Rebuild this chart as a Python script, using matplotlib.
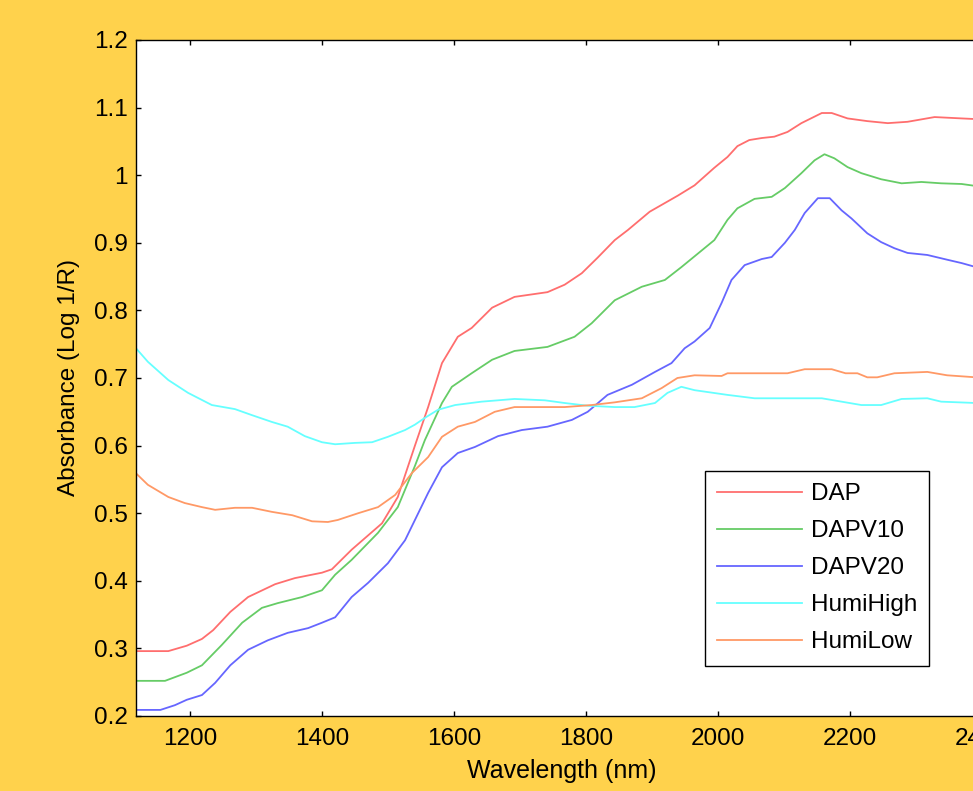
import matplotlib
matplotlib.use("Agg")
import matplotlib.pyplot as plt

plt.rcParams['font.family'] = ['Liberation Sans', 'DejaVu Sans']

# ---- data ----
dap_wl = [1118, 1167, 1195, 1218, 1235, 1261, 1288, 1329, 1359, 1400, 1415, 1445, 1491, 1515, 1541,
          1561, 1582, 1606, 1627, 1658, 1692, 1742, 1768, 1794, 1818, 1844, 1864, 1897, 1940, 1965,
          1995, 2015, 2030, 2048, 2067, 2086, 2106, 2127, 2158, 2173, 2197, 2227, 2258, 2288, 2329,
          2370, 2392]
dap_abs = [0.296, 0.296, 0.304, 0.314, 0.327, 0.354, 0.376, 0.395, 0.404, 0.412, 0.417, 0.446, 0.485, 0.524, 0.600,
           0.657, 0.722, 0.761, 0.774, 0.804, 0.820, 0.827, 0.838, 0.855, 0.878, 0.904, 0.919, 0.946, 0.970, 0.985,
           1.011, 1.027, 1.043, 1.052, 1.055, 1.057, 1.064, 1.077, 1.092, 1.092, 1.084, 1.080, 1.077, 1.079, 1.086,
           1.084, 1.083]

dapv10_wl = [1118, 1162, 1195, 1218, 1248, 1279, 1309, 1333, 1370, 1400, 1420, 1445, 1485, 1515, 1541,
             1556, 1582, 1597, 1627, 1658, 1692, 1742, 1783, 1809, 1844, 1885, 1920, 1945, 1965, 1995,
             2015, 2030, 2056, 2082, 2102, 2127, 2147, 2162, 2177, 2197, 2218, 2248, 2279, 2309, 2339,
             2370, 2392]
dapv10_abs = [0.252, 0.252, 0.264, 0.275, 0.305, 0.338, 0.360, 0.367, 0.376, 0.386, 0.409, 0.431, 0.471, 0.509, 0.570,
              0.608, 0.663, 0.687, 0.707, 0.727, 0.740, 0.746, 0.761, 0.781, 0.815, 0.835, 0.845, 0.864, 0.880, 0.904,
              0.934, 0.951, 0.965, 0.968, 0.981, 1.003, 1.022, 1.031, 1.025, 1.012, 1.003, 0.994, 0.988, 0.990, 0.988,
              0.987, 0.984]

dapv20_wl = [1118, 1155, 1177, 1195, 1218, 1238, 1261, 1288, 1318, 1348, 1379, 1400, 1420, 1445, 1470,
             1500, 1526, 1541, 1561, 1582, 1606, 1632, 1667, 1703, 1742, 1779, 1803, 1833, 1870, 1905,
             1930, 1950, 1965, 1988, 2006, 2021, 2041, 2067, 2082, 2102, 2117, 2132, 2152, 2170, 2188,
             2203, 2227, 2248, 2268, 2288, 2318, 2348, 2370, 2392]
dapv20_abs = [0.209, 0.209, 0.216, 0.224, 0.231, 0.249, 0.275, 0.298, 0.312, 0.323, 0.330, 0.338, 0.346, 0.376, 0.397,
              0.426, 0.460, 0.490, 0.530, 0.568, 0.589, 0.598, 0.614, 0.623, 0.628, 0.638, 0.650, 0.675, 0.690, 0.709,
              0.722, 0.744, 0.754, 0.774, 0.811, 0.845, 0.867, 0.876, 0.879, 0.900, 0.919, 0.944, 0.966, 0.966, 0.948,
              0.936, 0.914, 0.901, 0.892, 0.885, 0.882, 0.875, 0.870, 0.864]

humihigh_wl = [1118, 1136, 1167, 1197, 1233, 1268, 1294, 1324, 1348, 1374, 1400, 1420, 1450, 1476, 1500,
               1526, 1541, 1556, 1576, 1602, 1642, 1692, 1738, 1768, 1803, 1844, 1874, 1905, 1924, 1945,
               1965, 2015, 2056, 2158, 2188, 2218, 2248, 2279, 2318, 2339, 2392]
humihigh_abs = [0.744, 0.724, 0.697, 0.678, 0.660, 0.654, 0.645, 0.635, 0.628, 0.614, 0.605, 0.602, 0.604, 0.605, 0.613,
                0.623, 0.631, 0.641, 0.653, 0.660, 0.665, 0.669, 0.667, 0.663, 0.659, 0.657, 0.657, 0.663, 0.678, 0.687,
                0.682, 0.675, 0.670, 0.670, 0.665, 0.660, 0.660, 0.669, 0.670, 0.665, 0.663]

humilow_wl = [1118, 1136, 1167, 1192, 1218, 1238, 1268, 1294, 1324, 1355, 1385, 1409, 1424, 1455, 1485,
              1511, 1536, 1561, 1582, 1606, 1632, 1662, 1692, 1733, 1768, 1809, 1844, 1885, 1915, 1939,
              1965, 2006, 2015, 2106, 2132, 2173, 2194, 2212, 2227, 2242, 2268, 2318, 2348, 2392]
humilow_abs = [0.559, 0.542, 0.524, 0.515, 0.509, 0.505, 0.508, 0.508, 0.502, 0.497, 0.488, 0.487, 0.490, 0.500, 0.509,
               0.527, 0.559, 0.583, 0.613, 0.628, 0.635, 0.650, 0.657, 0.657, 0.657, 0.660, 0.664, 0.670, 0.685, 0.700,
               0.704, 0.703, 0.707, 0.707, 0.713, 0.713, 0.707, 0.707, 0.701, 0.701, 0.707, 0.709, 0.704, 0.701]

series_names = ['DAP', 'DAPV10', 'DAPV20', 'HumiHigh', 'HumiLow']
series_colors = ['#FF6E6E', '#66CC66', '#6666FF', '#66FFFF', '#FF9966']

x_ticks = [1200, 1400, 1600, 1800, 2000, 2200, 2400]
y_ticks = [0.2, 0.3, 0.4, 0.5, 0.6, 0.7, 0.8, 0.9, 1.0, 1.1, 1.2]
y_ticklabels = ['0.2', '0.3', '0.4', '0.5', '0.6', '0.7', '0.8', '0.9', '1', '1.1', '1.2']

# ---- figure ----
W, H = 973, 791
fig = plt.figure(figsize=(W / 100, H / 100), dpi=100, facecolor='#FFD24C')
ax_left, ax_right, ax_top, ax_bottom = 136, 988, 40, 716
ax = fig.add_axes([ax_left / W, 1 - ax_bottom / H, (ax_right - ax_left) / W, (ax_bottom - ax_top) / H])
ax.set_facecolor('white')

xs = [dap_wl, dapv10_wl, dapv20_wl, humihigh_wl, humilow_wl]
ys = [dap_abs, dapv10_abs, dapv20_abs, humihigh_abs, humilow_abs]
for x, y, name, c in zip(xs, ys, series_names, series_colors):
    ax.plot(x, y, color=c, lw=1.3, label=name, clip_on=True)

ax.set_xlim(1118, 2410)
ax.set_ylim(0.2, 1.2)
ax.set_xticks(x_ticks)
ax.set_yticks(y_ticks)
ax.set_yticklabels(y_ticklabels)

fs = 17.5
ax.tick_params(axis='both', direction='in', length=3.5, width=1, labelsize=fs, colors='black')
ax.tick_params(axis='x', top=True, pad=8.5)
ax.tick_params(axis='y', right=False, pad=6)
for s in ax.spines.values():
    s.set_linewidth(1.0)
    s.set_color('black')

ax.set_xlabel('Wavelength (nm)', fontsize=18, labelpad=6.5)
ax.set_ylabel('Absorbance (Log 1/R)', fontsize=fs, labelpad=10)

leg = ax.legend(loc='upper left', bbox_to_anchor=(705 / W, 1 - 471 / H), bbox_transform=fig.transFigure,
                fontsize=fs, frameon=True, fancybox=False, framealpha=1, edgecolor='black',
                handlelength=3.5, handletextpad=0.35, labelspacing=0.62, borderpad=0.5,
                borderaxespad=0)
leg.get_frame().set_linewidth(1.0)

fig.savefig('out.png', dpi=100, facecolor=fig.get_facecolor())
